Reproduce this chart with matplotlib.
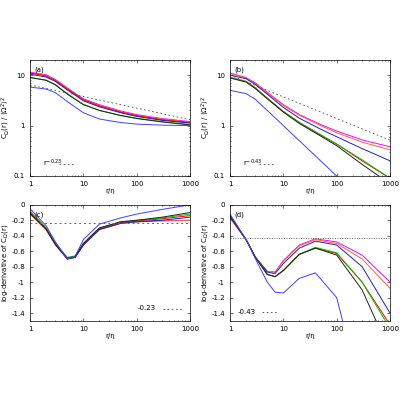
import numpy as np
import matplotlib
matplotlib.use("Agg")
from matplotlib import pyplot as plt

plt.rcParams['font.size'] = 5

# panel (a): C(r)/<Omega^2>
ra = [1, 2, 3, 5, 10, 20, 50, 100, 300, 1000]
a_curves = {
    'magenta': [11.5, 10.2, 8.2, 5.6, 3.4, 2.6, 1.95, 1.65, 1.38, 1.2],
    'orange': [11.2, 9.8, 7.9, 5.4, 3.3, 2.5, 1.9, 1.6, 1.34, 1.17],
    'red': [11.0, 9.6, 7.8, 5.3, 3.25, 2.45, 1.85, 1.57, 1.3, 1.15],
    'darkblue': [10.5, 9.2, 7.5, 5.1, 3.1, 2.35, 1.8, 1.52, 1.27, 1.12],
    'green': [9.0, 8.0, 6.5, 4.3, 2.65, 2.0, 1.6, 1.4, 1.2, 1.05],
    'black': [9.0, 7.9, 6.4, 4.2, 2.6, 2.0, 1.58, 1.38, 1.18, 1.03],
    'blue': [5.8, 5.3, 4.5, 3.0, 1.8, 1.35, 1.15, 1.07, 1.02, 1.0],
}
# panel (b)
b_curves = {
    'magenta': [11.0, 9.0, 7.0, 4.6, 2.6, 1.65, 1.05, 0.78, 0.52, 0.38],
    'orange': [10.8, 8.8, 6.8, 4.4, 2.5, 1.6, 1.0, 0.72, 0.47, 0.33],
    'darkblue': [10.0, 8.5, 6.5, 4.2, 2.3, 1.4, 0.85, 0.6, 0.35, 0.2],
    'red': [9.0, 7.5, 5.6, 3.5, 1.9, 1.15, 0.65, 0.43, 0.2, 0.09],
    'green': [9.0, 7.5, 5.5, 3.5, 1.9, 1.15, 0.66, 0.43, 0.21, 0.09],
    'black': [8.8, 7.3, 5.4, 3.4, 1.85, 1.1, 0.62, 0.4, 0.17, 0.07],
    'blue': [5.0, 4.3, 3.3, 2.0, 1.0, 0.5, 0.2, 0.1, 0.03, 0.01],
}
# panel (c): log-derivative
rc = [1, 2, 3, 5, 7, 10, 20, 50, 100, 300, 1000]
c_curves = {
    'magenta': [-0.08, -0.3, -0.5, -0.7, -0.68, -0.52, -0.32, -0.24, -0.22, -0.2, -0.2],
    'orange': [-0.08, -0.3, -0.5, -0.7, -0.68, -0.52, -0.32, -0.24, -0.22, -0.21, -0.2],
    'red': [-0.12, -0.32, -0.52, -0.7, -0.68, -0.52, -0.31, -0.23, -0.21, -0.18, -0.14],
    'darkblue': [-0.1, -0.31, -0.51, -0.7, -0.68, -0.52, -0.32, -0.24, -0.22, -0.2, -0.16],
    'green': [-0.1, -0.3, -0.5, -0.68, -0.66, -0.5, -0.3, -0.22, -0.2, -0.17, -0.12],
    'black': [-0.11, -0.31, -0.51, -0.69, -0.67, -0.5, -0.3, -0.22, -0.2, -0.16, -0.1],
    'blue': [-0.05, -0.27, -0.48, -0.7, -0.67, -0.45, -0.25, -0.17, -0.12, -0.06, 0.0],
}
# panel (d)
rd = [1, 2, 3, 5, 7, 10, 20, 40, 100, 300, 1000]
d_curves = {
    'magenta': [-0.17, -0.45, -0.68, -0.86, -0.87, -0.72, -0.52, -0.44, -0.48, -0.65, -1.0],
    'orange': [-0.17, -0.45, -0.68, -0.86, -0.87, -0.73, -0.53, -0.45, -0.5, -0.7, -1.08],
    'darkblue': [-0.15, -0.45, -0.68, -0.87, -0.89, -0.76, -0.56, -0.47, -0.52, -0.8, -1.4],
    'red': [-0.14, -0.45, -0.68, -0.9, -0.93, -0.85, -0.64, -0.56, -0.63, -1.0, -1.55],
    'green': [-0.14, -0.45, -0.68, -0.9, -0.93, -0.85, -0.64, -0.55, -0.62, -1.0, -1.6],
    'black': [-0.15, -0.45, -0.68, -0.9, -0.93, -0.85, -0.64, -0.56, -0.65, -1.1, -1.9],
    'blue': [-0.12, -0.45, -0.70, -1.0, -1.13, -1.14, -0.95, -0.88, -1.2, -2.5, -4.0],
}
colors = {'magenta': '#ff00ff', 'orange': '#ff6040', 'red': '#ff0000', 'darkblue': '#2020b0',
          'green': '#00c000', 'black': '#202020', 'blue': '#4040ff'}

fig = plt.figure(figsize=(4, 4), dpi=100)
pos = {'a': [0.075, 0.56, 0.40, 0.29], 'b': [0.575, 0.56, 0.40, 0.29],
       'c': [0.075, 0.198, 0.40, 0.29], 'd': [0.575, 0.198, 0.40, 0.29]}
axes = {k: fig.add_axes(v) for k, v in pos.items()}


def style(ax):
    ax.set_xscale('log')
    ax.set_xlim(1, 1000)
    ax.tick_params(which='both', direction='in', top=True, right=True, length=2, width=0.4)
    ax.tick_params(which='minor', length=1)
    ax.set_xticks([1, 10, 100, 1000])
    ax.set_xticklabels(['1', '10', '100', '1000'])
    ax.set_xlabel('r/η', labelpad=1)
    for s in ax.spines.values():
        s.set_linewidth(0.5)


for k, data, r in [('a', a_curves, ra), ('b', b_curves, ra), ('c', c_curves, rc), ('d', d_curves, rd)]:
    ax = axes[k]
    for name, vals in data.items():
        ax.plot(r, vals, color=colors[name], lw=0.7)
    style(ax)
    ax.text(1.3, 0.93, '(%s)' % k, transform=ax.transAxes, fontsize=5, va='top') if False else \
        ax.text(0.03, 0.94, '(%s)' % k, transform=ax.transAxes, fontsize=5, va='top')

rr = np.array([1, 1000])
for k, p, coef in [('a', 0.23, 6.4), ('b', 0.43, 10.0)]:
    ax = axes[k]
    ax.plot(rr, coef * rr ** (-p), color='0.3', lw=0.6, ls=(0, (2, 3)))
    ax.set_yscale('log')
    ax.set_ylim(0.1, 20)
    ax.set_yticks([0.1, 1, 10])
    ax.set_yticklabels(['0.1', '1', '10'])
    ax.set_ylabel(r'C$_{\Omega}$(r) / $\langle\Omega^2\rangle^2$', labelpad=1)
    ax.text(0.08, 0.11, r'r$^{-%.2f}$' % p, transform=ax.transAxes, fontsize=5, va='center')
    ax.plot([0.18, 0.27], [0.1, 0.1], transform=ax.transAxes, color='0.3', lw=0.6, ls=(0, (2, 3)))

for k, p in [('c', 0.23), ('d', 0.43)]:
    ax = axes[k]
    ax.axhline(-p, color='0.4', lw=0.7, ls=(0, (2, 3)) if k == 'c' else (0, (1, 1.5)))
    ax.set_ylim(-1.5, 0)
    ax.set_yticks(np.arange(-1.4, 0.01, 0.2))
    ax.set_yticklabels(['-1.4', '-1.2', '-1', '-0.8', '-0.6', '-0.4', '-0.2', '0'])
    ax.set_ylabel(r'log-derivative of C$_{\Omega}$(r)', labelpad=1)
    if k == 'c':
        ax.text(0.67, 0.11, '-%.2f' % p, transform=ax.transAxes, fontsize=5, va='center')
        ax.plot([0.83, 0.95], [0.1, 0.1], transform=ax.transAxes, color='0.3', lw=0.6, ls=(0, (2, 3)))
    else:
        ax.text(0.05, 0.08, '-%.2f' % p, transform=ax.transAxes, fontsize=5, va='center')
        ax.plot([0.2, 0.3], [0.08, 0.08], transform=ax.transAxes, color='0.3', lw=0.6, ls=(0, (2, 3)))

fig.savefig('out.png', dpi=100)
